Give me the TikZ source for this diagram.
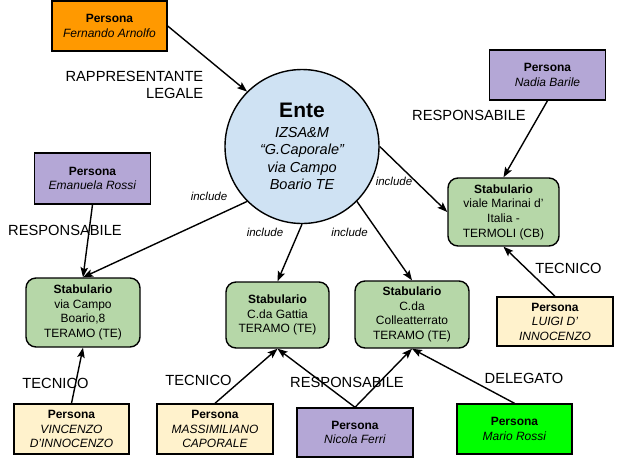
\documentclass[tikz,border=0pt]{standalone}
\usepackage{fontspec}
\setmainfont{Liberation Sans}
\usetikzlibrary{arrows.meta}
\definecolor{porange}{HTML}{FF9900}
\definecolor{ppurple}{HTML}{B4A7D6}
\definecolor{pyellow}{HTML}{FFF2CC}
\definecolor{pgreen}{HTML}{00FF00}
\definecolor{sgreen}{HTML}{B6D7A8}
\definecolor{eblue}{HTML}{CFE2F3}
\tikzset{
  persona/.style={draw=black, line width=1.4pt, minimum width=116pt, minimum height=50pt, inner sep=0pt, align=center, font=\fontsize{12}{14.5}\selectfont},
  stabbox/.style={draw=black, line width=1.4pt, fill=sgreen, rounded corners=10pt, inner sep=0pt, align=center, font=\fontsize{12}{14.7}\selectfont},
  rel/.style={font=\fontsize{14.7}{17}\selectfont, inner sep=0pt},
  inc/.style={font=\fontsize{11.5}{13}\selectfont\itshape, inner sep=0pt},
  conn/.style={line width=1.4pt, -{Stealth[length=10pt,width=7.5pt,inset=2pt]}}
}
\begin{document}
\begin{tikzpicture}[x=1pt,y=-1pt]
\useasboundingbox (0,0) rectangle (621,459);
% Ente
\node[circle, draw=black, line width=1.4pt, fill=eblue, minimum size=154pt, inner sep=0pt, align=center, font=\fontsize{14.5}{17.5}\selectfont\itshape] (ente) at (302,146.5)
  {{\fontsize{21}{21}\selectfont\bfseries\upshape Ente}\\[2pt]IZSA\&M\\``G.Caporale''\\via Campo\\Boario TE};
% Persone
\node[persona, fill=porange, minimum width=115pt] (fern) at (109.5,26) {\textbf{Persona}\\\textit{Fernando Arnolfo}};
\node[persona, fill=ppurple, minimum height=51pt] (eman) at (92.5,178.5) {\textbf{Persona}\\\textit{Emanuela Rossi}};
\node[persona, fill=ppurple] (nadia) at (547.5,75) {\textbf{Persona}\\\textit{Nadia Barile}};
\node[persona, fill=pyellow, minimum height=49pt] (luigi) at (555,321.5) {\textbf{Persona}\\\textit{LUIGI D'}\\\textit{INNOCENZO}};
\node[persona, fill=pyellow, minimum width=115pt] (vinc) at (71.5,429) {\textbf{Persona}\\\textit{VINCENZO}\\\textit{D'INNOCENZO}};
\node[persona, fill=pyellow] (massi) at (215,429) {\textbf{Persona}\\\textit{MASSIMILIANO}\\\textit{CAPORALE}};
\node[persona, fill=ppurple, minimum height=49pt] (nicola) at (355,432.5) {\textbf{Persona}\\\textit{Nicola Ferri}};
\node[persona, fill=pgreen, minimum width=115pt] (mario) at (514.5,429) {\textbf{Persona}\\\textit{Mario Rossi}};
% Stabulari
\node[stabbox, minimum width=111pt, minimum height=68pt] (termoli) at (503.5,212) {\textbf{Stabulario}\\viale Marinai d'\\Italia -\\TERMOLI (CB)};
\node[stabbox, minimum width=114pt, minimum height=69pt] (boario) at (83,312.5) {\textbf{Stabulario}\\via Campo\\Boario,8\\TERAMO (TE)};
\node[stabbox, minimum width=103pt, minimum height=66pt] (gattia) at (277.5,315) {\textbf{Stabulario}\\C.da Gattia\\TERAMO (TE)};
\node[stabbox, minimum width=114pt, minimum height=67pt] (colle) at (412,314.5) {\textbf{Stabulario}\\C.da\\Colleatterrato\\TERAMO (TE)};
% Connectors
\draw[conn] (fern.east) -- (ente.135);
\draw[conn] (eman.south) -- (boario.north);
\draw[conn] (ente.225) -- (boario.north);
\draw[conn] (ente.south) -- (gattia.north);
\draw[conn] (ente.-45) -- (colle.north);
\draw[conn] (ente.east) -- (termoli.west);
\draw[conn] (nadia.south) -- (termoli.north);
\draw[conn] (luigi.north) -- (termoli.south);
\draw[conn] (vinc.north) -- (boario.south);
\draw[conn] (massi.north) -- (gattia.south);
\draw[conn] (nicola.north) -- (gattia.south);
\draw[conn] (nicola.north) -- (colle.south);
\draw[conn] (mario.north) -- (colle.south);
% Labels
\node[rel, align=right, anchor=east] (lrapp) at (203.5,84.5) {RAPPRESENTANTE\\LEGALE};
\node[rel] (lrespl) at (65,230) {RESPONSABILE};
\node[rel] (lrespr) at (469,115) {RESPONSABILE};
\node[rel] (ltecr) at (568.5,268) {TECNICO};
\node[rel] (ltecl) at (55.5,383) {TECNICO};
\node[rel] (ltecm) at (198.5,380) {TECNICO};
\node[rel] (lrespb) at (347,382) {RESPONSABILE};
\node[rel] (ldeleg) at (524,378) {DELEGATO};
\node[inc] (inc1) at (209,196) {include};
\node[inc] (inc2) at (265,232) {include};
\node[inc] (inc3) at (349.5,232) {include};
\node[inc] (inc4) at (394,181) {include};
\end{tikzpicture}
\end{document}
